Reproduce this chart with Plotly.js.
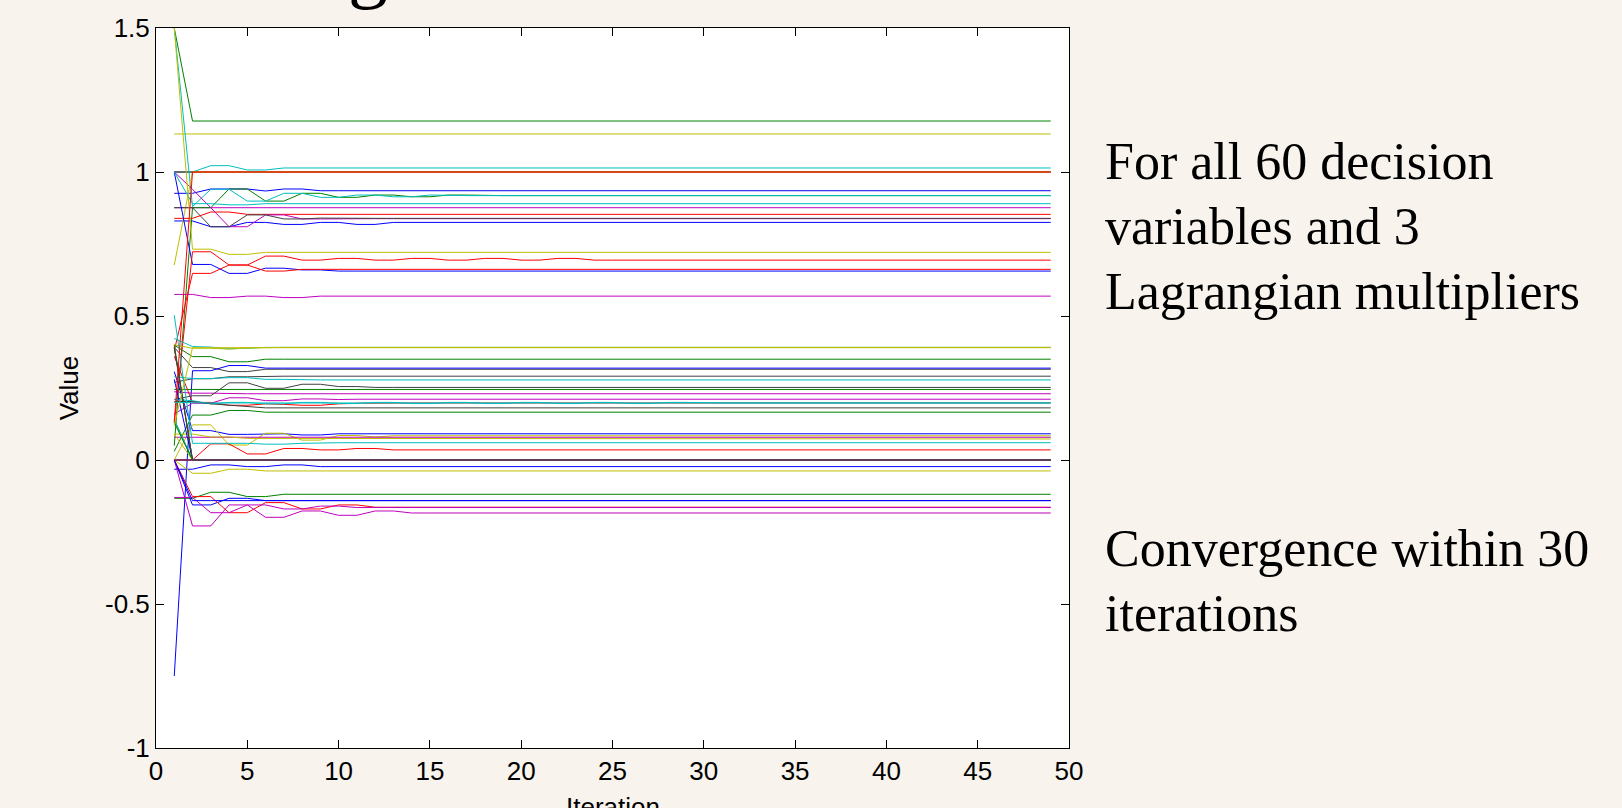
<!DOCTYPE html>
<html>
<head>
<meta charset="utf-8">
<script src="https://cdn.plot.ly/plotly-3.0.1.min.js"></script>
<style>
  html, body { margin: 0; padding: 0; background: #f8f3ec; }
  #chart { width: 1622px; height: 808px; }
</style>
</head>
<body>
<div id="chart"></div>
<script>
// Iteration numbers (x axis)
const iterations = [1,2,3,4,5,6,7,8,9,10,11,12,13,14,15,16,17,18,19,20,21,22,23,24,25,
  26,27,28,29,30,31,32,33,34,35,36,37,38,39,40,41,42,43,44,45,46,47,48,49];

// Values, per iteration starting at iteration 1.
// Each line is flat after its last listed value (it has converged), so it is held there to iteration 49.
// Series are grouped by their line colour (MATLAB colour order b, g, r, c, m, y, k).
const blueSeries = [
  [0.926, 0.926, 0.941, 0.941, 0.941, 0.934, 0.941, 0.941, 0.935],
  [0.83, 0.83, 0.81, 0.81, 0.825, 0.825, 0.818, 0.818, 0.825, 0.825, 0.818, 0.818, 0.825],
  [1.0, 0.679, 0.679, 0.648, 0.648, 0.666, 0.666, 0.66, 0.66, 0.656],
  [-0.75, 0.31, 0.31, 0.328, 0.328, 0.319],
  [0.307, 0.102, 0.102, 0.089, 0.089, 0.091, 0.091, 0.087, 0.087, 0.091],
  [-0.032, -0.032, -0.017, -0.017, -0.023, -0.023, -0.017, -0.017, -0.023],
  [0.0, -0.156, -0.156, -0.133, -0.133, -0.141],
  [0.28, 0.0],
  [0.0, -0.141]
];
const greenSeries = [
  [1.5, 1.177],
  [0.05, 0.876, 0.876, 0.941, 0.941, 0.899, 0.899, 0.926, 0.926, 0.912, 0.912, 0.92, 0.92, 0.914, 0.914, 0.92, 0.92, 0.918],
  [0.399, 0.359, 0.359, 0.341, 0.341, 0.35],
  [0.245],
  [0.03, 0.156, 0.156, 0.172, 0.172, 0.166],
  [-0.133, -0.133, -0.112, -0.112, -0.127, -0.127, -0.119],
  [0.14, 0.0],
  [0.4, 0.0],
  [0.13, 0.0]
];
const redSeries = [
  [1.0],
  [0.839, 0.839, 0.861, 0.861, 0.853, 0.853, 0.855, 0.855, 0.853],
  [0.13, 0.723, 0.723, 0.677, 0.677, 0.708, 0.708, 0.694, 0.694, 0.70, 0.70, 0.694, 0.694, 0.70, 0.70, 0.694, 0.694, 0.70, 0.70, 0.694, 0.694, 0.70, 0.70, 0.694],
  [0.38, 0.648, 0.648, 0.677, 0.677, 0.656, 0.656, 0.662],
  [0.36, 0.2, 0.2, 0.19, 0.19, 0.195, 0.193, 0.19, 0.19, 0.195, 0.197, 0.198],
  [0.39, 0.0, 0.056, 0.056, 0.021, 0.021, 0.04, 0.04, 0.035, 0.035, 0.04, 0.04, 0.035],
  [0.0, -0.127, -0.127, -0.183, -0.183, -0.148, -0.148, -0.17, -0.17, -0.156, -0.156, -0.164],
  [0.0],
  [0.13, 1.0]
];
const cyanSeries = [
  [1.0, 1.0, 1.022, 1.022, 1.007, 1.007, 1.014],
  [1.5, 0.88, 0.94, 0.94, 0.899, 0.899, 0.926, 0.926, 0.912, 0.912, 0.92, 0.92, 0.914, 0.914, 0.92, 0.918],
  [1.0, 0.89, 0.89, 0.886, 0.886, 0.89],
  [0.422, 0.394, 0.392, 0.386, 0.388, 0.391],
  [0.289, 0.283, 0.283, 0.286, 0.286, 0.28, 0.28, 0.278],
  [0.21, 0.206, 0.195, 0.2, 0.2, 0.195, 0.195, 0.2, 0.2, 0.196, 0.196, 0.2, 0.2, 0.196, 0.196, 0.2, 0.2, 0.196, 0.196, 0.2, 0.2, 0.196, 0.196, 0.2, 0.2, 0.196, 0.196, 0.2, 0.2, 0.198],
  [0.503, 0.058, 0.058, 0.058, 0.058, 0.055, 0.055, 0.058, 0.06],
  [0.14, 0.0],
  [0.2, 0.198]
];
const magentaSeries = [
  [0.876],
  [1.0, 0.94, 0.876, 0.81, 0.81, 0.851, 0.851, 0.837, 0.837, 0.838],
  [0.575, 0.575, 0.564, 0.564, 0.569, 0.569, 0.564, 0.564, 0.569],
  [0.237, 0.232, 0.232, 0.23],
  [0.16, 0.197, 0.197, 0.216, 0.216, 0.206, 0.206, 0.212, 0.212, 0.21, 0.211],
  [0.079],
  [-0.13, -0.13, -0.183, -0.183, -0.156, -0.156, -0.17, -0.17, -0.16, -0.16, -0.165],
  [0.0, -0.229, -0.229, -0.156, -0.156, -0.199, -0.199, -0.177, -0.177, -0.192, -0.192, -0.177, -0.177, -0.184],
  [0.0]
];
const yellowSeries = [
  [1.132],
  [0.677, 1.0],
  [1.5, 0.732, 0.732, 0.714, 0.714, 0.721],
  [0.40, 0.388, 0.388, 0.385, 0.389, 0.391],
  [0.0, 0.122, 0.122, 0.052, 0.052, 0.093, 0.093, 0.069, 0.069, 0.085, 0.085, 0.08, 0.084],
  [0.09, 0.09, 0.08, 0.08, 0.075, 0.075, 0.073],
  [0.0, -0.046, -0.046, -0.032, -0.032, -0.038],
  [0.09, 0.0],
  [0.12, 0.39]
];
const graySeries = [
  [1.0],
  [0.876, 0.876, 0.81, 0.81, 0.851, 0.851, 0.837, 0.837, 0.84, 0.839],
  [0.391, 0.321, 0.321, 0.307, 0.307, 0.315],
  [0.27, 0.282, 0.282, 0.289, 0.289, 0.291],
  [0.21, 0.223, 0.223, 0.268, 0.268, 0.249, 0.249, 0.263, 0.263, 0.255, 0.255, 0.252],
  [0.203, 0.203, 0.195, 0.19, 0.185, 0.181],
  [0.0],
  [0.39, 0.0],
  [0.0]
];

const yTickVals = [-1, -0.5, 0, 0.5, 1, 1.5];
const yTickText = ['-1', '-0.5', '0', '0.5', '1', '1.5'];
const xTickVals = [0, 5, 10, 15, 20, 25, 30, 35, 40, 45, 50];

// MATLAB (old) default colour order
const colorOrder = ['#0000ff', '#008000', '#ff0000', '#00bfbf', '#bf00bf', '#bfbf00', '#404040'];

function holdConverged(vals) {
  const out = vals.slice(0, iterations.length);
  while (out.length < iterations.length) out.push(vals[vals.length - 1]);
  return out;
}

const groups = [blueSeries, greenSeries, redSeries, cyanSeries, magentaSeries, yellowSeries, graySeries];
const traces = [];
for (let r = 0; r < 9; r++) {
  for (let c = 0; c < groups.length; c++) {
    traces.push({
      x: iterations,
      y: holdConverged(groups[c][r]),
      type: 'scatter',
      mode: 'lines',
      line: { width: 1 },
      showlegend: false,
      hoverinfo: 'skip',
      cliponaxis: true
    });
  }
}

const serif = '"Times New Roman", "Liberation Serif", serif';
const sans = 'Arial, "Liberation Sans", Helvetica, sans-serif';
const noteFont = { family: serif, size: 52, color: '#000' };

function note(text, yPaper) {
  return {
    text: text, xref: 'paper', yref: 'paper', x: 1.037, y: yPaper,
    xanchor: 'left', yanchor: 'top', align: 'left', showarrow: false, font: noteFont
  };
}

const layout = {
  width: 1622,
  height: 808,
  paper_bgcolor: '#f8f3ec',
  plot_bgcolor: '#ffffff',
  colorway: colorOrder,
  margin: { l: 156, r: 553, t: 28, b: 60, pad: 0 },
  showlegend: false,
  xaxis: {
    range: [0, 50],
    tickvals: xTickVals,
    ticks: 'inside',
    ticklen: 8,
    tickcolor: '#000',
    showline: true,
    linecolor: '#000',
    linewidth: 1,
    mirror: 'ticks',
    showgrid: false,
    zeroline: false,
    tickfont: { family: sans, size: 26, color: '#000' },
    automargin: false
  },
  yaxis: {
    range: [-1, 1.5],
    tickvals: yTickVals,
    ticktext: yTickText,
    ticks: 'inside',
    ticklen: 8,
    tickcolor: '#000',
    showline: true,
    linecolor: '#000',
    linewidth: 1,
    mirror: 'ticks',
    showgrid: false,
    zeroline: false,
    tickfont: { family: sans, size: 26, color: '#000' },
    title: { text: 'Value', standoff: 18, font: { family: sans, size: 26, color: '#000' } },
    automargin: true
  },
  annotations: [
    note('For all 60 decision', 0.8575),
    note('variables and 3', 0.7667),
    note('Lagrangian multipliers', 0.6757),
    note('Convergence within 30', 0.3195),
    note('iterations', 0.2298),
    {
      // x-axis title; in the reference it sits at the bottom edge and is cut off
      text: 'Iteration',
      xref: 'paper', yref: 'paper', x: 0.5, y: -0.0583,
      xanchor: 'center', yanchor: 'top', showarrow: false,
      font: { family: sans, size: 26, color: '#000' }
    },
    {
      text: 'g',
      xref: 'paper', yref: 'paper', x: 0.2322, y: 1.0222,
      xanchor: 'center', yanchor: 'bottom', showarrow: false,
      font: { family: serif, size: 80, color: '#000' }
    }
  ]
};

Plotly.newPlot('chart', traces, layout, { staticPlot: true, displayModeBar: false });
</script>
</body>
</html>
